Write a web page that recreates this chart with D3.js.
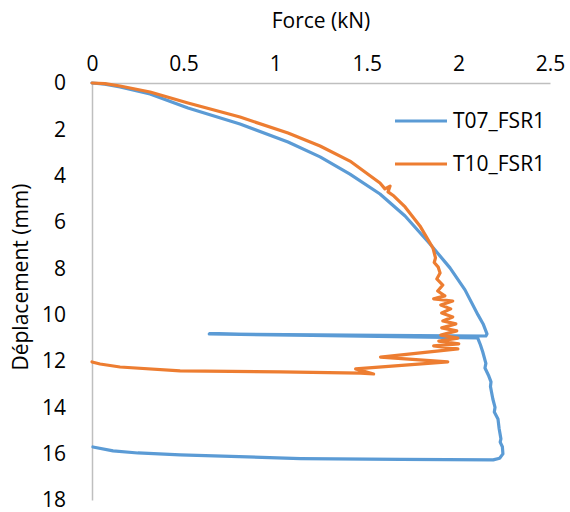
<!DOCTYPE html>
<html>
<head>
<meta charset="utf-8">
<script src="https://cdn.jsdelivr.net/npm/d3@7"></script>
<style>
  body { margin: 0; background: #fff; }
  text { font-family: "Open Sans", sans-serif; fill: #000; }
</style>
</head>
<body>
<div class="chart"></div>
<script>
var xTicks = [0, 0.5, 1, 1.5, 2, 2.5];
var yTicks = [0, 2, 4, 6, 8, 10, 12, 14, 16, 18];
var seriesNames = ["T07_FSR1", "T10_FSR1"];
var seriesColors = ["#5b9bd5", "#ed7d31"];

// T07_FSR1 : force (kN) / deplacement (mm)
var t07Force = [0, 0.07, 0.153, 0.317, 0.524, 0.808, 1.07, 1.245, 1.408, 1.572, 1.709, 1.845, 1.954,
  2.036, 2.107, 2.135, 2.156, 2.15, 1.4, 0.64, 1.2, 2.105, 2.12, 2.133, 2.15, 2.145, 2.166, 2.178,
  2.175, 2.188, 2.2, 2.196, 2.216, 2.222, 2.232, 2.228, 2.24, 2.243, 2.225, 2.19, 1.685, 1.138, 0.481,
  0.25, 0.115, 0.005];
var t07Disp = [0, 0.05, 0.17, 0.47, 1.08, 1.77, 2.55, 3.19, 3.93, 4.79, 5.74, 6.95, 7.98,
  8.93, 10.01, 10.4, 10.83, 10.92, 10.88, 10.83, 10.9, 11.0, 11.3, 11.61, 12.1, 12.3, 12.65, 12.9,
  13.1, 13.64, 14.0, 14.2, 14.5, 14.9, 15.36, 15.5, 15.7, 16.01, 16.2, 16.27, 16.25, 16.21, 16.05,
  15.97, 15.88, 15.71];

// T10_FSR1
var t10Force = [0, 0.07, 0.153, 0.317, 0.524, 0.808, 1.07, 1.245, 1.408, 1.572, 1.599, 1.627, 1.616, 1.648,
  1.709, 1.79, 1.861, 1.875, 1.868, 1.89, 1.9,
  1.882, 1.915, 1.887, 1.926, 1.865, 1.969, 1.904, 1.958, 1.909, 1.969,
  1.915, 1.986, 1.909, 1.991, 1.904, 1.997, 1.893, 2.002, 1.865, 1.997, 1.575, 1.942, 1.439, 1.537,
  1.466, 1.028, 0.481, 0.153, 0.044, 0];
var t10Disp = [0, 0.03, 0.13, 0.39, 0.86, 1.47, 2.16, 2.72, 3.37, 4.32, 4.57, 4.45, 4.7, 4.88,
  5.35, 6.17, 7.12, 7.55, 7.75, 7.95, 8.2,
  8.46, 8.72, 8.98, 9.19, 9.32, 9.41, 9.58, 9.75, 9.93, 10.1,
  10.27, 10.4, 10.57, 10.7, 10.88, 11.01, 11.14, 11.26, 11.35, 11.48, 11.83, 12.04, 12.34, 12.56,
  12.52, 12.47, 12.43, 12.26, 12.13, 12.04];

var width = 570, height = 512;
var plot = { left: 92, right: 550, top: 83, bottom: 500 };

var svg = d3.select(".chart").append("svg")
  .attr("width", width)
  .attr("height", height);

var x = d3.scaleLinear().domain([0, 2.5]).range([plot.left, plot.right]);
var y = d3.scaleLinear().domain([0, 18]).range([plot.top, plot.bottom]);

// axes (top x axis, inverted y axis), no tick marks
var xAxis = svg.append("g")
  .attr("transform", "translate(0," + plot.top + ")")
  .call(d3.axisTop(x).tickValues(xTicks).tickSize(0).tickPadding(12).tickFormat(d3.format("")));
var yAxis = svg.append("g")
  .attr("transform", "translate(" + plot.left + ",0)")
  .call(d3.axisLeft(y).tickValues(yTicks).tickSize(0).tickPadding(26).tickFormat(d3.format("")));

[xAxis, yAxis].forEach(function(g) {
  g.select(".domain").attr("stroke", "#bfbfbf").attr("stroke-width", 1.5);
  g.selectAll("text").style("font-family", "'Open Sans', sans-serif").style("font-size", "21px").attr("fill", "#000");
});

svg.append("text")
  .attr("x", (plot.left + plot.right) / 2)
  .attr("y", 28)
  .attr("text-anchor", "middle")
  .style("font-size", "21px")
  .text("Force (kN)");

svg.append("text")
  .attr("transform", "translate(28,277) rotate(-90)")
  .attr("text-anchor", "middle")
  .style("font-size", "21px")
  .text("Déplacement (mm)");

var line = d3.line()
  .x(function(d) { return x(d[0]); })
  .y(function(d) { return y(d[1]); });

var series = [
  d3.zip(t07Force, t07Disp),
  d3.zip(t10Force, t10Disp)
];

svg.selectAll(".series")
  .data(series)
  .enter().append("path")
    .attr("class", "series")
    .attr("d", line)
    .attr("fill", "none")
    .attr("stroke", function(d, i) { return seriesColors[i]; })
    .attr("stroke-width", 3.2)
    .attr("stroke-linejoin", "round")
    .attr("stroke-linecap", "round");

// legend
var legend = svg.selectAll(".legend")
  .data(seriesNames)
  .enter().append("g")
    .attr("class", "legend")
    .attr("transform", function(d, i) { return "translate(395," + (121 + i * 43) + ")"; });

legend.append("line")
  .attr("x1", 0).attr("x2", 52)
  .attr("stroke", function(d, i) { return seriesColors[i]; })
  .attr("stroke-width", 3.2);

legend.append("text")
  .attr("x", 58)
  .attr("dy", "0.35em")
  .style("font-size", "21px")
  .text(function(d) { return d; });
</script>
</body>
</html>
